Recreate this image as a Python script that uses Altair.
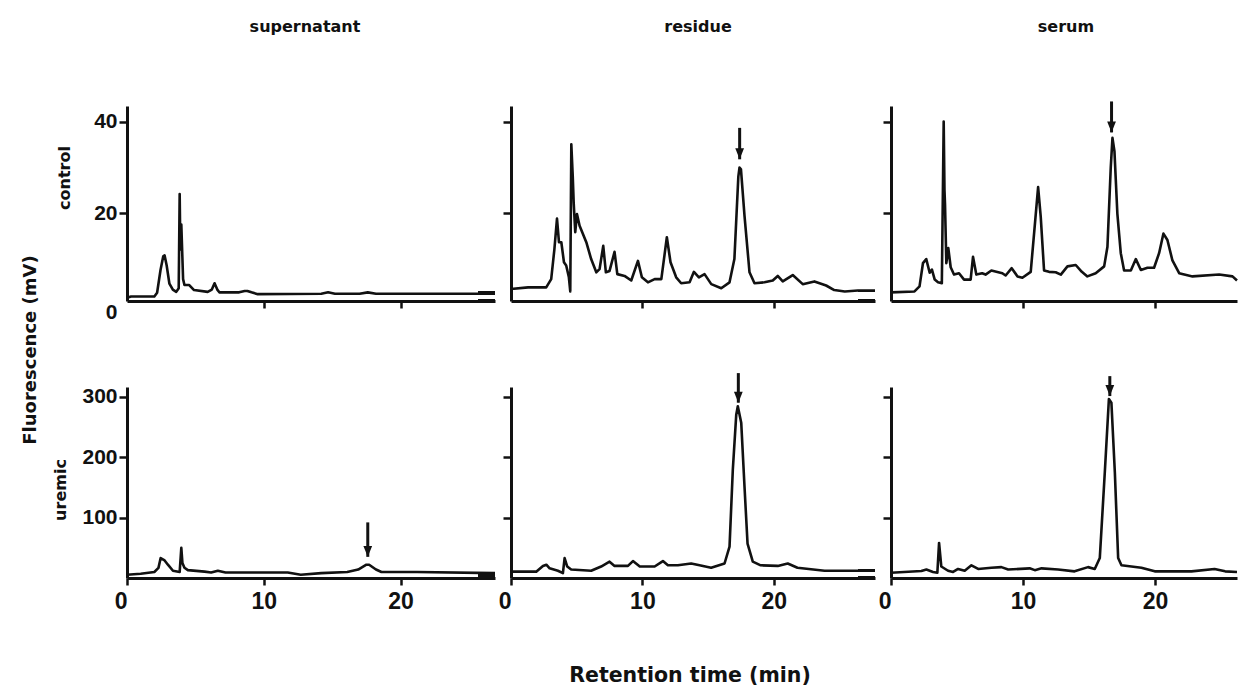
import altair as alt
import pandas as pd

COLUMNS = ["supernatant", "residue", "serum"]
ROWS = ["control", "uremic"]
Y_TITLE = "Fluorescence (mV)"
X_TITLE = "Retention time (min)"

# ---- traces (retention time in min, fluorescence in mV) ----
SUP_CTRL_T = [0, 0.3, 2.0, 2.2, 2.45, 2.65, 2.75, 2.9, 3.1, 3.35, 3.6, 3.78, 3.85, 3.9, 3.97, 4.1, 4.2, 4.55,
              4.9, 5.9, 6.2, 6.4, 6.6, 6.75, 8.2, 8.6, 8.8, 9.1, 9.56, 14.2, 14.7, 15.2, 17.0, 17.6, 18.2, 22.0, 26.9]
SUP_CTRL_V = [1.4, 1.7, 1.7, 2.5, 7.5, 10.5, 10.7, 8.5, 4.5, 3.2, 2.7, 3.5, 24.2, 12.0, 17.5, 5.5, 4.2, 4.2,
              3.1, 2.7, 3.2, 4.6, 3.2, 2.6, 2.6, 2.9, 2.9, 2.6, 2.2, 2.3, 2.6, 2.3, 2.3, 2.6, 2.3, 2.3, 2.3]

RES_CTRL_T = [0, 1.3, 2.68, 3.06, 3.3, 3.5, 3.65, 3.83, 4.03, 4.2, 4.4, 4.51, 4.59, 4.7, 4.77, 4.89, 5.02, 5.22,
              5.73, 6.1, 6.49, 6.74, 7.02, 7.22, 7.5, 7.88, 8.09, 8.64, 9.15, 9.66, 9.96, 10.42, 10.93, 11.44,
              11.86, 12.14, 12.57, 12.95, 13.59, 13.92, 14.3, 14.73, 15.24, 16.0, 16.63, 17.0, 17.2, 17.3, 17.39,
              17.5, 17.77, 18.15, 18.53, 19.29, 19.92, 20.3, 20.68, 21.44, 22.2, 23.09, 23.98, 24.6, 25.4, 26.4, 27.7]
RES_CTRL_V = [3.35, 3.7, 3.7, 5.5, 12.0, 18.8, 13.6, 13.6, 9.2, 8.5, 6.0, 2.8, 35.1, 28.0, 22.3, 15.8, 19.8, 17.2,
              13.6, 9.9, 7.0, 7.7, 12.8, 7.0, 7.3, 11.5, 6.6, 6.2, 5.2, 9.5, 5.9, 4.8, 5.5, 5.5,
              14.7, 9.2, 5.9, 4.6, 4.8, 7.1, 5.9, 6.6, 4.4, 3.5, 4.8, 9.9, 22.0, 28.0, 30.0,
              29.6, 19.4, 7.0, 4.6, 4.8, 5.2, 6.2, 5.0, 6.4, 4.4, 5.0, 4.1, 3.1, 2.8, 3.0, 3.0]

SER_CTRL_T = [0, 1.78, 2.16, 2.42, 2.67, 2.93, 3.1, 3.31, 3.56, 3.85, 3.99, 4.05, 4.09, 4.19, 4.34, 4.52, 4.77,
              5.15, 5.53, 6.03, 6.21, 6.46, 6.9, 7.16, 7.6, 8.43, 8.68, 9.14, 9.58, 9.95, 10.58, 10.88, 11.14,
              11.34, 11.59, 11.97, 12.47, 12.86, 13.36, 13.99, 14.45, 14.87, 15.5, 16.14, 16.39, 16.64, 16.77,
              16.92, 17.14, 17.4, 17.65, 18.16, 18.54, 18.92, 19.42, 19.92, 20.3, 20.63, 20.93, 21.31, 21.82,
              22.83, 24.85, 25.86, 26.2]
SER_CTRL_V = [2.6, 2.8, 3.9, 9.0, 9.9, 6.9, 7.6, 5.4, 4.8, 4.6, 40.1, 25.0, 22.0, 9.0, 12.3, 8.1, 6.5,
              6.8, 5.4, 5.4, 10.4, 6.5, 6.8, 6.5, 7.4, 6.8, 6.3, 7.9, 6.1, 5.8, 7.1, 17.0, 25.7,
              19.1, 7.4, 7.1, 7.0, 6.5, 8.3, 8.6, 7.1, 6.1, 6.8, 8.3, 12.6, 30.0, 36.5,
              33.6, 19.9, 11.2, 7.4, 7.4, 9.9, 7.5, 8.0, 8.0, 11.2, 15.5, 14.1, 9.6, 6.8,
              6.1, 6.5, 6.1, 5.2]

SUP_UREM_T = [0, 1.0, 2.0, 2.3, 2.46, 2.75, 2.99, 3.36, 3.85, 3.97, 4.05, 4.2, 4.45, 5.67, 6.15, 6.64, 7.2,
              11.75, 12.7, 14.2, 16.1, 16.9, 17.5, 17.7, 18.2, 18.6, 21.2, 26.9]
SUP_UREM_V = [5.5, 7, 10, 16.7, 33, 29, 22, 12, 10, 50, 25, 17, 13, 10.5, 9, 12, 9,
              9, 5.5, 8, 10, 14, 22, 22, 14, 10, 10, 8]

RES_UREM_T = [0, 1.92, 2.43, 2.69, 2.94, 3.57, 3.95, 4.08, 4.28, 4.58, 6.1, 6.86, 7.5, 7.88, 8.9, 9.28, 9.8,
              10.93, 11.56, 11.94, 12.7, 13.71, 14.35, 15.23, 16.25, 16.63, 16.88, 17.14, 17.26, 17.52, 17.77,
              18.0, 18.4, 19.0, 20.3, 21.06, 21.8, 23.86, 26.4, 27.7]
RES_UREM_V = [10.5, 10.5, 20, 22, 16, 12, 8, 33, 19, 14, 12, 19, 27, 20, 20, 28, 19,
              19, 28, 21, 21, 24, 21, 17, 24, 52, 179, 270, 284, 257, 151,
              57, 27, 21, 20, 24, 17, 12, 12, 12]

SER_UREM_T = [0, 2.3, 2.68, 3.18, 3.51, 3.64, 3.81, 4.32, 4.7, 5.08, 5.58, 6.09, 6.6, 7.6, 8.36, 8.87, 10.5,
              10.89, 11.4, 12.65, 13.9, 14.92, 15.43, 15.81, 16.19, 16.5, 16.69, 16.95, 17.2, 17.45, 18.96,
              19.97, 22.75, 24.5, 25.3, 26.2]
SER_UREM_V = [8.7, 11.5, 14, 10, 8.7, 58, 19, 12, 10, 15, 12, 21, 15, 17, 18, 14, 16,
              13, 16, 14, 11, 18, 15, 33, 175, 296, 290, 175, 33, 21, 17,
              11, 11, 15, 11, 10]

# arrows marking the peak of interest: panel index, time, top value, tip value
ARROW_PANEL = [1, 2, 3, 4, 5]
ARROW_T = [17.4, 16.7, 17.6, 17.3, 16.57]
ARROW_TOP = [38.7, 44.5, 92, 339, 334]
ARROW_TIP = [31.8, 37.7, 35, 290, 301]

# axis extents per column / row
X_MAX = [26.9, 27.7, 26.2]
WIDTHS = [368, 364, 346]
Y_MIN = [0.7, 0]
Y_MAX = [43.5, 316]
HEIGHTS = [195, 191]
Y_TICKS = [[0.7, 20, 40], [100, 200, 300]]

TRACES = [(SUP_CTRL_T, SUP_CTRL_V), (RES_CTRL_T, RES_CTRL_V), (SER_CTRL_T, SER_CTRL_V),
          (SUP_UREM_T, SUP_UREM_V), (RES_UREM_T, RES_UREM_V), (SER_UREM_T, SER_UREM_V)]

# small "=" break marks left of the baseline (panel, pixel offsets of each stroke: y)
BREAK_PANEL = [1, 1, 2, 2, 4, 5, 5]
BREAK_Y = [186, 194, 185, 194, 189, 183, 190]
BREAK_W = [2, 2, 2, 2, 5, 2, 2]

INK = "#111111"
TICK_FONT = "Liberation Sans"
TEXT_FONT = "DejaVu Sans"


def text_layer(label, x, y, size, angle=0):
    return alt.Chart(pd.DataFrame({"label": [label]})).mark_text(
        font=TEXT_FONT, fontSize=size, fontWeight="bold", color=INK, angle=angle,
        align="center", baseline="middle"
    ).encode(x=alt.value(x), y=alt.value(y), text="label:N")


TITLE_POS = [(178, -79), (187, -79), (175, -79)]

panels = []
for i in range(6):
    row, col = divmod(i, 3)
    t, v = TRACES[i]
    df = pd.DataFrame({"t": t, "v": v})
    left = col == 0
    bottom = row == 1
    xaxis = alt.Axis(
        values=[0, 10, 20] if bottom else [10, 20], labels=bottom, title=None, grid=False,
        domainWidth=3, domainColor=INK, tickWidth=2.5, tickColor=INK, tickSize=7,
        labelFont=TICK_FONT, labelFontSize=23, labelFontWeight="bold", labelColor=INK,
        labelPadding=5, labelFlush=False, labelOverlap=False,
        labelAlign={"condition": {"test": "datum.value == 0", "value": "right"}, "value": "center"},
    )
    yvals = Y_TICKS[row] if (left or row == 1) else [20, 40]
    yaxis = alt.Axis(
        values=yvals, labels=left, title=None, grid=False,
        domainWidth=3, domainColor=INK, tickWidth=2.5, tickColor=INK, tickSize=8,
        tickOpacity={"condition": {"test": "datum.value < 1", "value": 0}, "value": 1},
        labelExpr="datum.value < 1 ? '0' : datum.label",
        labelFont=TICK_FONT, labelFontSize=21, labelFontWeight="bold", labelColor=INK,
        labelPadding=2, labelFlush=False, labelOverlap=False,
        labelBaseline={"condition": {"test": "datum.value < 1", "value": "top"}, "value": "middle"},
    )
    xs = alt.Scale(domain=[0, X_MAX[col]], nice=False, zero=False)
    ys = alt.Scale(domain=[Y_MIN[row], Y_MAX[row]], nice=False, zero=False)
    line = alt.Chart(df).mark_line(color=INK, strokeWidth=2.6, strokeJoin="round").encode(
        x=alt.X("t:Q", scale=xs, axis=xaxis),
        y=alt.Y("v:Q", scale=ys, axis=yaxis),
        order="t:Q",
    )
    layers = [line]
    if i in ARROW_PANEL:
        k = ARROW_PANEL.index(i)
        adf = pd.DataFrame({"t": [ARROW_T[k]], "top": [ARROW_TOP[k]], "tip": [ARROW_TIP[k]]})
        rule = alt.Chart(adf).mark_rule(color=INK, strokeWidth=3).encode(
            x=alt.X("t:Q", scale=xs), y=alt.Y("top:Q", scale=ys), y2="tip:Q")
        head = alt.Chart(adf).mark_point(
            shape="M-0.8,-2L0.8,-2L0,0Z", filled=True, color=INK, opacity=1, size=120
        ).encode(x=alt.X("t:Q", scale=xs), y=alt.Y("tip:Q", scale=ys))
        layers += [rule, head]
    for k, p in enumerate(BREAK_PANEL):
        if p == i:
            layers.append(
                alt.Chart(pd.DataFrame({"k": [k]})).mark_rule(color=INK, strokeWidth=BREAK_W[k]).encode(
                    x=alt.value(-33), x2=alt.value(-16), y=alt.value(BREAK_Y[k])))
    if row == 0:
        tx, ty = TITLE_POS[col]
        layers.append(text_layer(COLUMNS[col], tx, ty, 16))
    if i == 0:
        layers.append(text_layer(ROWS[0], -62, 72, 16, 270))
        layers.append(text_layer(Y_TITLE, -96, 244, 18, 270))
    if i == 3:
        layers.append(text_layer(ROWS[1], -66, 103, 16, 270))
    if i == 4:
        layers.append(text_layer(X_TITLE, 179, 289, 20.5))
    panels.append(alt.layer(*layers).properties(width=WIDTHS[col], height=HEIGHTS[row]))

chart = alt.concat(
    *panels, columns=3, spacing={"row": 86, "column": 16}, bounds="flush", align="each"
).properties(
    padding={"left": 22, "top": 19, "right": 0, "bottom": 0},
    background="white",
).configure_view(stroke=None)

chart.save("out.html", embed_options={"renderer": "svg", "actions": False})
